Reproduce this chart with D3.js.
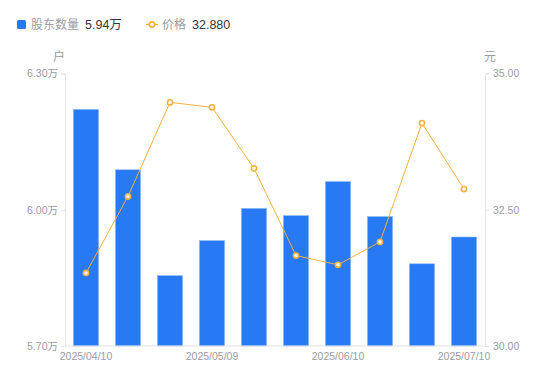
<!DOCTYPE html>
<html><head><meta charset="utf-8">
<script src="https://cdn.jsdelivr.net/npm/d3@7/dist/d3.min.js"></script>
<style>
html,body{margin:0;padding:0;background:#fff;}
svg text{font-family:"Liberation Sans","Noto Sans CJK SC",sans-serif;}
</style></head>
<body><svg id="c" width="550" height="381"></svg>
<script>
const dates = ["2025/04/10","2025/04/20","2025/04/30","2025/05/09","2025/05/20","2025/05/30","2025/06/10","2025/06/20","2025/06/30","2025/07/10"];
const holders = [6.221, 6.088, 5.855, 5.932, 6.003, 5.987, 6.062, 5.985, 5.881, 5.94];
const prices = [31.34, 32.745, 34.47, 34.38, 33.26, 31.66, 31.49, 31.91, 34.09, 32.88];
const leftTicks = [5.70, 6.00, 6.30];
const rightTicks = [30.00, 32.50, 35.00];
const shownLabels = ["2025/04/10","2025/05/09","2025/06/10","2025/07/10"];

const svg = d3.select("#c");
const L = 65, R = 485, T = 73.5, B = 346;
const axisColor = "#e3e4e8", labelColor = "#9a9ba6";
const barColor = "#2779f4", lineColor = "#f8b03a";

const x = d3.scaleBand().domain(dates).range([L, R]).paddingInner(0.4).paddingOuter(0.2);
const yL = d3.scaleLinear().domain([5.70, 6.30]).range([B, T]);
const yR = d3.scaleLinear().domain([30, 35]).range([B, T]);

// bars
svg.append("g").selectAll("rect").data(holders).join("rect")
  .attr("x", (d,i) => x(dates[i]))
  .attr("y", d => yL(d))
  .attr("width", x.bandwidth())
  .attr("height", d => B - yL(d))
  .attr("fill", barColor)
  .attr("stroke", "#8fb8f8").attr("stroke-width", 0.6);

// left axis
const gl = svg.append("g").attr("transform", `translate(${L},0)`)
  .call(d3.axisLeft(yL).tickValues(leftTicks).tickSize(4).tickPadding(3).tickFormat(d => d3.format(".2f")(d) + "万"));
gl.select(".domain").attr("stroke", axisColor);
gl.selectAll(".tick line").attr("stroke", axisColor);
gl.selectAll(".tick text").attr("fill", labelColor).attr("font-size", 10.5);

// right axis
const gr = svg.append("g").attr("transform", `translate(${R},0)`)
  .call(d3.axisRight(yR).tickValues(rightTicks).tickSize(4).tickPadding(4).tickFormat(d3.format(".2f")));
gr.select(".domain").attr("stroke", axisColor);
gr.selectAll(".tick line").attr("stroke", axisColor);
gr.selectAll(".tick text").attr("fill", labelColor).attr("font-size", 10.5);

// bottom axis
const gb = svg.append("g").attr("transform", `translate(0,${B})`)
  .call(d3.axisBottom(x).tickValues(shownLabels).tickSize(0).tickPadding(7));
gb.select(".domain").attr("stroke", axisColor).attr("d", `M${L},0H${R}`);
gb.selectAll(".tick text").attr("fill", labelColor).attr("font-size", 10.5);

// unit labels
svg.append("text").attr("x", 59).attr("y", 61).attr("text-anchor", "middle")
  .attr("fill", labelColor).attr("font-size", 12).text("户");
svg.append("text").attr("x", 490).attr("y", 61).attr("text-anchor", "middle")
  .attr("fill", labelColor).attr("font-size", 12).text("元");

// price line
const cx = (i) => x(dates[i]) + x.bandwidth()/2;
svg.append("path").datum(prices)
  .attr("fill", "none").attr("stroke", lineColor).attr("stroke-width", 1)
  .attr("d", d3.line().x((d,i) => cx(i)).y(d => yR(d)));
svg.append("g").selectAll("circle").data(prices).join("circle")
  .attr("cx", (d,i) => cx(i)).attr("cy", d => yR(d)).attr("r", 2.6)
  .attr("fill", "#fff").attr("stroke", lineColor).attr("stroke-width", 1.6);

// legend
const lg = svg.append("g");
lg.append("rect").attr("x", 17).attr("y", 20).attr("width", 9).attr("height", 9).attr("rx", 1.5).attr("fill", barColor);
lg.append("text").attr("x", 31).attr("y", 29).attr("font-size", 12).attr("fill", labelColor).text("股东数量");
lg.append("text").attr("x", 85).attr("y", 29).attr("font-size", 12.5).attr("fill", "#33343d").text(d3.format(".2f")(holders[holders.length-1]) + "万");
lg.append("line").attr("x1", 146).attr("x2", 158).attr("y1", 24.5).attr("y2", 24.5).attr("stroke", lineColor).attr("stroke-width", 1.2);
lg.append("circle").attr("cx", 152).attr("cy", 24.5).attr("r", 2.6).attr("fill", "#fff").attr("stroke", lineColor).attr("stroke-width", 1.6);
lg.append("text").attr("x", 162).attr("y", 29).attr("font-size", 12).attr("fill", labelColor).text("价格");
lg.append("text").attr("x", 192).attr("y", 29).attr("font-size", 12.5).attr("fill", "#33343d").text(d3.format(".3f")(prices[prices.length-1]));
</script></body></html>
